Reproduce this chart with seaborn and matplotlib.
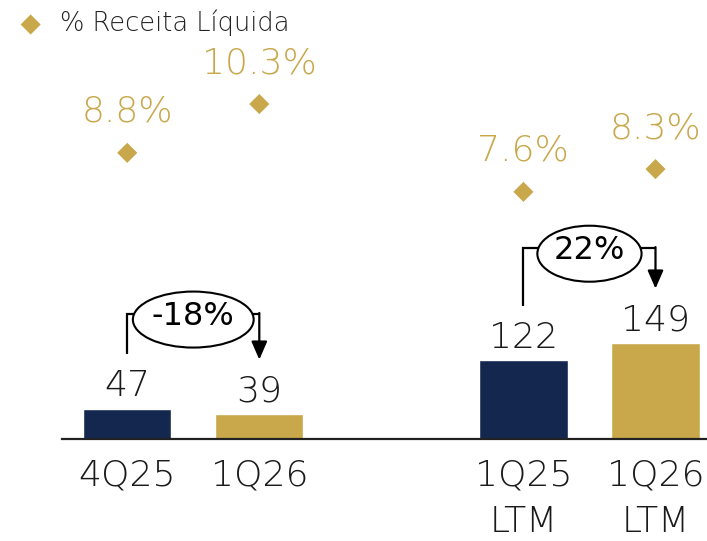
import numpy as np
import pandas as pd
import matplotlib.pyplot as plt
import seaborn as sns
from matplotlib.patches import Ellipse

# ── Dados ─────────────────────────────────────────────────────────────────────
periodos = ["4Q25", "1Q26", "1Q25\nLTM", "1Q26\nLTM"]
valores = [47, 39, 122, 149]
pct_receita = [8.8, 10.3, 7.6, 8.3]
variacoes = [("4Q25", "1Q26", "-18%"), ("1Q25\nLTM", "1Q26\nLTM", "22%")]

AZUL = "#14284F"
DOURADO = "#C9A84C"
TEXTO = "#1A1A1A"
cores = [AZUL, DOURADO, AZUL, DOURADO]
LEVE = "light"

# espaço vazio entre os trimestres e os LTM
ordem = periodos[:2] + [" "] + periodos[2:]

sns.set_theme(style="white")
plt.rcParams["font.family"] = ["DejaVu Sans"]

fig = plt.figure(figsize=(7.07, 5.41), dpi=100)
ax = fig.add_axes([62 / 707, 102 / 541, 645 / 707, 439 / 541])

df = pd.DataFrame({"periodo": periodos, "valor": valores})
sns.barplot(
    data=df, x="periodo", y="valor", hue="periodo",
    order=ordem, hue_order=periodos,
    palette=dict(zip(periodos, cores)), saturation=1,
    width=0.668, legend=False, ax=ax,
)
ax.set_xlim(-0.494, 4.39)
ax.set_ylim(0, 680)
ax.set_xlabel("")
ax.set_ylabel("")
ax.set_yticks([])
for s in ["top", "left", "right"]:
    ax.spines[s].set_visible(False)
ax.spines["bottom"].set_color("#222222")
ax.spines["bottom"].set_linewidth(1.6)
ax.tick_params(axis="x", length=0, pad=14, labelsize=26, labelcolor=TEXTO)
for lab in ax.get_xticklabels():
    lab.set_fontweight(LEVE)
    lab.set_linespacing(1.45)

# rótulos das barras
for p, v in zip(periodos, valores):
    ax.annotate(f"{v}", (ordem.index(p), v), xytext=(0, 9),
                textcoords="offset points", ha="center", va="baseline",
                fontsize=26, fontweight=LEVE, color=TEXTO)

# ── % Receita Líquida (eixo secundário) ──────────────────────────────────────
ax2 = ax.twinx()
xpos = [ordem.index(p) for p in periodos]
sns.scatterplot(x=xpos, y=pct_receita, marker="D", s=105, color=DOURADO,
                edgecolor="none", ax=ax2, label="% Receita Líquida")
ax2.set_ylim(0, 13.5)
ax2.set_axis_off()
for x, p in zip(xpos, pct_receita):
    ax2.annotate(f"{p:.1f}%", (x, p), xytext=(0, 22.3),
                 textcoords="offset points", ha="center", va="baseline",
                 fontsize=26, fontweight=LEVE, color=DOURADO)
ax.set_xlim(-0.494, 4.39)

ax2.legend(loc="center left", bbox_to_anchor=(17.8 / 707, 1 - 23 / 541),
           bbox_transform=fig.transFigure, frameon=False,
           handlelength=1, handletextpad=0.64, borderpad=0, borderaxespad=0,
           labelcolor="#222222", prop={"weight": LEVE, "size": 18.5})

# ── Variações ────────────────────────────────────────────────────────────────
fig.canvas.draw()
renderer = fig.canvas.get_renderer()
for a, b, txt in variacoes:
    xa, xb = ordem.index(a), ordem.index(b)
    va_, vb_ = valores[periodos.index(a)], valores[periodos.index(b)]
    off = 84
    topo = max(va_, vb_) + 147
    ax.plot([xa, xa, xb], [va_ + off, topo, topo], color="black", lw=1.6,
            solid_joinstyle="miter", solid_capstyle="butt", zorder=4)
    ax.annotate("", xy=(xb, vb_ + off), xytext=(xb, topo + 1.2),
                arrowprops=dict(arrowstyle="-|>,head_length=0.55,head_width=0.24",
                                mutation_scale=20, color="black", lw=1.6,
                                shrinkA=0, shrinkB=0), zorder=4)
    yc = topo - 9
    t = ax.text((xa + xb) / 2, yc + 5, txt, ha="center", va="center",
                fontsize=23, color="black", zorder=6)
    bb = t.get_window_extent(renderer)
    inv = ax.transData.inverted()
    (x0, _), (x1, _) = inv.transform([[bb.x0, 0], [bb.x1, 0]])
    _, h0 = inv.transform([0, 0])
    _, h1 = inv.transform([0, 56])
    ax.add_patch(Ellipse(((xa + xb) / 2, yc), 1.46 * (x1 - x0), h1 - h0,
                         facecolor="white", edgecolor="black", lw=1.5,
                         zorder=5))

fig.savefig("out.png", dpi=100)
